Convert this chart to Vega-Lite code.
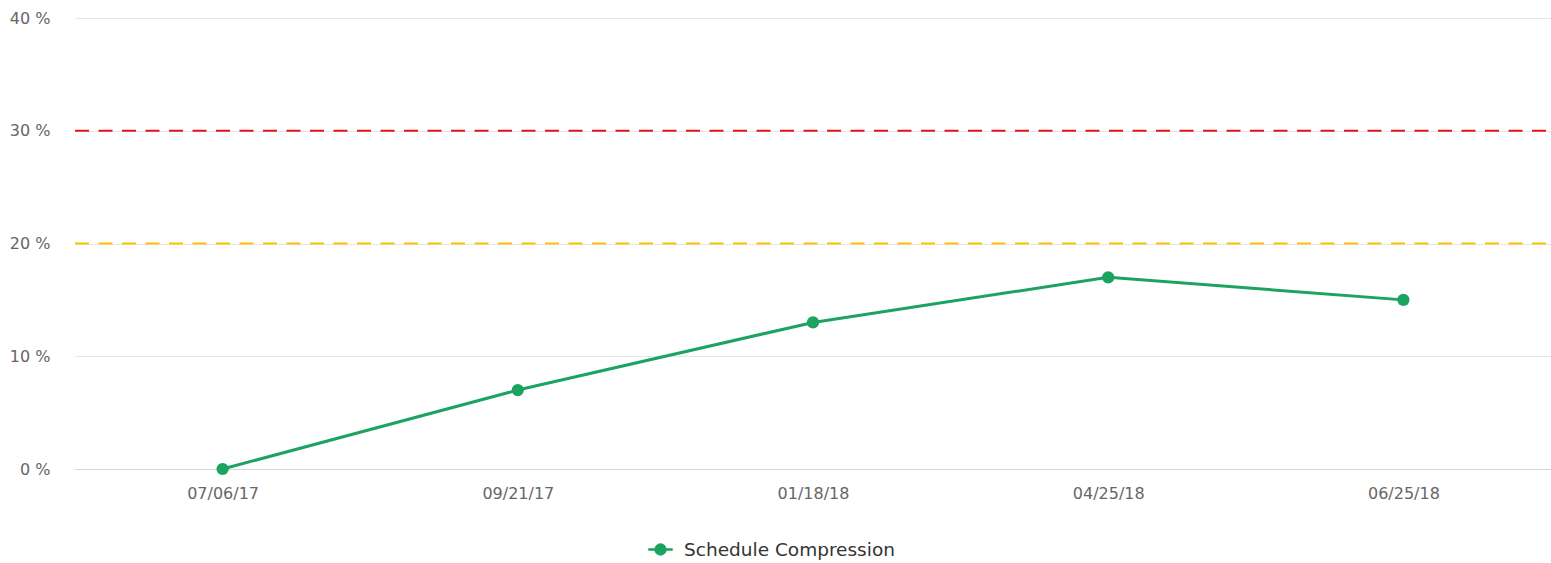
{
  "$schema": "https://vega.github.io/schema/vega-lite/v6.json",
  "autosize": {"type": "none"},
  "width": 1476,
  "height": 451,
  "padding": {"left": 75, "top": 18, "right": 0, "bottom": 94},
  "background": "#ffffff",
  "config": {
    "view": {"stroke": null},
    "font": "DejaVu Sans",
    "axis": {"labelFont": "DejaVu Sans", "labelFontSize": 16, "labelColor": "#666666", "ticks": false, "title": null}
  },
  "datasets": {
    "series": [
      {"date": "07/06/17", "value": 0, "series": "Schedule Compression"},
      {"date": "09/21/17", "value": 7, "series": "Schedule Compression"},
      {"date": "01/18/18", "value": 13, "series": "Schedule Compression"},
      {"date": "04/25/18", "value": 17, "series": "Schedule Compression"},
      {"date": "06/25/18", "value": 15, "series": "Schedule Compression"}
    ],
    "thresholds": [
      {"level": "warning", "value": 20},
      {"level": "critical", "value": 30}
    ]
  },
  "resolve": {"scale": {"color": "independent"}},
  "layer": [
    {
      "data": {"name": "thresholds"},
      "mark": {"type": "rule", "strokeWidth": 2, "strokeDash": [14, 9.5], "strokeDashOffset": 18.5},
      "encoding": {
        "y": {"field": "value", "type": "quantitative", "scale": {"domain": [0, 40]}},
        "color": {"field": "level", "type": "nominal", "scale": {"domain": ["warning", "critical"], "range": ["#ffc000", "#e3141c"]}, "legend": null}
      }
    },
    {
      "data": {"name": "series"},
      "mark": {"type": "line", "strokeWidth": 3, "point": {"filled": true, "size": 150, "opacity": 1}},
      "encoding": {
        "x": {
          "field": "date", "type": "nominal", "sort": null,
          "scale": {"type": "point", "padding": 0.5},
          "axis": {"labelAngle": 0, "labelPadding": 16, "domain": true, "domainColor": "#ccd6eb", "domainWidth": 1, "grid": false}
        },
        "y": {
          "field": "value", "type": "quantitative",
          "scale": {"domain": [0, 40], "nice": false},
          "axis": {"values": [0, 10, 20, 30, 40], "labelExpr": "datum.value + ' %'", "labelPadding": 25, "domain": false, "grid": true, "gridColor": "#e6e6e6", "gridWidth": 1}
        },
        "color": {
          "field": "series", "type": "nominal",
          "scale": {"domain": ["Schedule Compression"], "range": ["#1ba35f"]},
          "legend": {
            "orient": "none", "legendX": 572, "legendY": 518, "title": null,
            "symbolType": "M-1,0H-0.4M0.4,0H1M0.4,0A0.4,0.4 0 1,1 -0.4,0A0.4,0.4 0 1,1 0.4,0Z",
            "symbolSize": 600, "symbolStrokeWidth": 2.5, "symbolFillColor": "#1ba35f", "symbolStrokeColor": "#1ba35f",
            "labelFont": "DejaVu Sans", "labelFontSize": 18.5, "labelColor": "#333333", "labelOffset": 10, "labelLimit": 400
          }
        }
      }
    }
  ]
}
